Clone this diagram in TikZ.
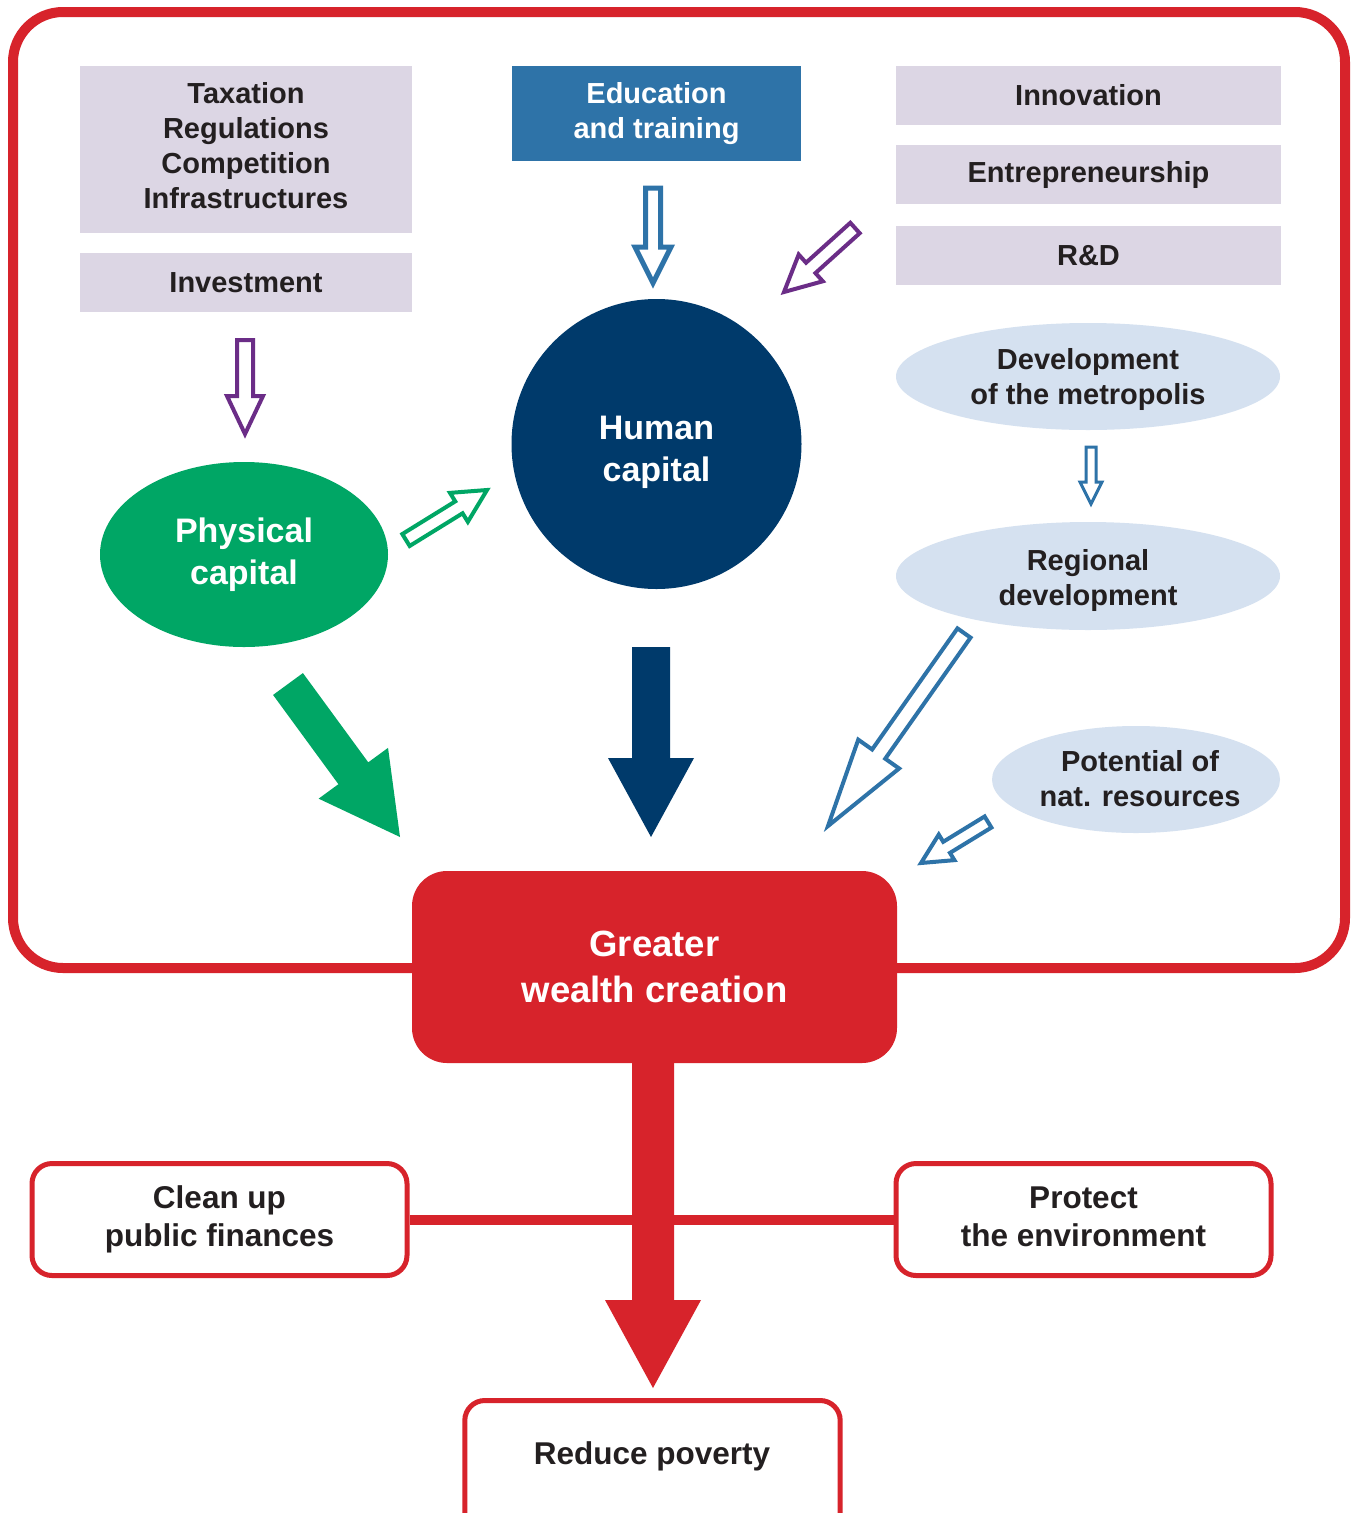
\documentclass[tikz,border=0pt]{standalone}
\usepackage{fontspec}
\setmainfont{Liberation Sans}
\usetikzlibrary{calc,shapes.geometric}
\definecolor{cred}{HTML}{D7232B}
\definecolor{clav}{HTML}{DCD6E4}
\definecolor{cedu}{HTML}{2E73A8}
\definecolor{cnavy}{HTML}{003A6B}
\definecolor{cgreen}{HTML}{00A665}
\definecolor{clblue}{HTML}{D5E1F0}
\definecolor{cpurple}{HTML}{6B2D87}
\definecolor{ctext}{HTML}{231F20}
\newcommand{\blkarrow}[6]{%
  \coordinate (bah) at ($#3!#6!#2$);
  \draw[#1] ($#2!#4!90:#3$) -- ($(bah)!#4!-90:#2$) -- ($(bah)!#5!-90:#2$) -- #3 -- ($(bah)!#5!90:#2$) -- ($(bah)!#4!90:#2$) -- ($#2!#4!-90:#3$) -- cycle;
}
\tikzset{
  txtS/.style={font=\bfseries\fontsize{29}{35}\selectfont, text=ctext, align=center},
  txtM/.style={font=\bfseries\fontsize{31.5}{38}\selectfont, text=ctext, align=center},
  txtL/.style={font=\bfseries\fontsize{34}{42}\selectfont, text=white, align=center},
  lavbox/.style={txtS, fill=clav, inner sep=0pt, minimum width=332pt},
  lblue/.style={ellipse, fill=clblue, inner sep=0pt},
  outbox/.style={txtM, draw=cred, line width=5pt, rounded corners=20pt, fill=white, inner sep=0pt, minimum width=375pt, minimum height=112pt},
  hollow/.style={fill=white, line width=#1, line join=miter},
  hollow/.default=4pt,
}
\begin{document}
\begin{tikzpicture}[x=1pt,y=-1pt]
\useasboundingbox (0,0) rectangle (1353,1513);
\clip (0,0) rectangle (1353,1513);
\fill[white] (0,0) rectangle (1353,1513);

% outer frame
\draw[cred, line width=10pt, rounded corners=50pt] (13,12) rectangle (1345,968);

% top left boxes
\node[lavbox, minimum height=167pt] (tax) at (246,149.5) {};
\node[txtS] (taxt) at (246,145.5) {Taxation\\Regulations\\Competition\\Infrastructures};
\node[lavbox, minimum height=59pt] (inv) at (246,282.5) {Investment};

% education
\node[txtS, text=white, fill=cedu, inner sep=0pt, minimum width=289pt, minimum height=95pt] (edu) at (656.5,113.5) {Education\\and training};

% right boxes
\node[lavbox, minimum width=385pt, minimum height=59pt] (innov) at (1088.5,95.5) {Innovation};
\node[lavbox, minimum width=385pt, minimum height=59pt] (entr) at (1088.5,174.5) {Entrepreneurship};
\node[lavbox, minimum width=385pt, minimum height=59pt] (rnd) at (1088.5,255.5) {R\&D};

% human capital
\node[circle, fill=cnavy, inner sep=0pt, minimum size=290pt] (hum) at (656.5,444) {};
\node[txtL] (humt) at (656.5,452) {Human\\capital};

% physical capital
\node[txtL, ellipse, fill=cgreen, inner sep=0pt, minimum width=288pt, minimum height=185pt] (phy) at (244,554.5) {Physical\\capital};

% light blue ellipses
\node[lblue, minimum width=384pt, minimum height=107pt] (metro) at (1088,376.5) {};
\node[txtS] (metrot) at (1088,379.5) {Development\\of the metropolis};
\node[lblue, minimum width=384pt, minimum height=108pt] (reg) at (1088,576) {};
\node[txtS] (regt) at (1088,580) {Regional\\development};
\node[lblue, minimum width=288pt, minimum height=107pt] (pot) at (1136,779.5) {};
\node[txtS] (pott) at (1140,779) {Potential of\\nat. resources};

% bottom boxes
\node[outbox] (clean) at (219.5,1219.5) {Clean up\\public finances};
\node[outbox] (prot) at (1083.5,1219.5) {};
\node[txtM] (prott) at (1083.5,1216.5) {Protect\\the environment};
\draw[cred, line width=10pt] (clean.east) -- (prot.west);

% reduce poverty
\node[inner sep=0pt, minimum width=375pt, minimum height=130pt, anchor=north] (pov) at (652.5,1400.5) {};
\draw[cred, line width=5pt, rounded corners=20pt, fill=white] (pov.south west) -- (pov.north west) -- (pov.north east) -- (pov.south east);
\node[txtM] (povt) at (652,1456) {Reduce poverty};

% greater wealth creation
\node[font=\bfseries\fontsize{36.5}{46}\selectfont, text=white, align=center, fill=cred, rounded corners=35pt, inner sep=0pt, minimum width=485pt, minimum height=192pt] (gwc) at (654.5,967) {Greater\\wealth creation};

% arrow coordinates
\coordinate (pa1) at (245,340);   \coordinate (pa2) at (245,434);
\coordinate (ea1) at (653,188);   \coordinate (ea2) at (653,283);
\coordinate (pd1) at (855,228);   \coordinate (pd2) at (784,292);
\coordinate (ga1) at (406,540);   \coordinate (ga2) at (487,490);
\coordinate (sa1) at (1091,447);  \coordinate (sa2) at (1091,504);
\coordinate (ba1) at (964,633);   \coordinate (ba2) at (828,826);
\coordinate (na1) at (988,822);   \coordinate (na2) at (921,863);
\coordinate (gs1) at (288,684);   \coordinate (gs2) at (400,837);
\coordinate (ns1) at (651,647);   \coordinate (ns2) at (651,837);
\coordinate (rs1) at (653,1062);  \coordinate (rs2) at (653,1388);

% hollow arrows
\blkarrow{hollow, draw=cpurple}{(pa1)}{(pa2)}{8pt}{18pt}{38pt}
\blkarrow{hollow=5pt, draw=cedu}{(ea1)}{(ea2)}{7.5pt}{18pt}{36pt}
\blkarrow{hollow, draw=cpurple}{(pd1)}{(pd2)}{7pt}{18pt}{36pt}
\blkarrow{hollow, draw=cgreen}{(ga1)}{(ga2)}{7pt}{17pt}{33pt}
\blkarrow{hollow=3pt, draw=cedu}{(sa1)}{(sa2)}{5pt}{11pt}{22pt}
\blkarrow{hollow, draw=cedu}{(ba1)}{(ba2)}{8pt}{25pt}{88pt}
\blkarrow{hollow, draw=cedu}{(na1)}{(na2)}{6.5pt}{15pt}{30pt}

% solid arrows
\blkarrow{fill=cgreen, draw=none}{(gs1)}{(gs2)}{18.5pt}{43pt}{79pt}
\blkarrow{fill=cnavy, draw=none}{(ns1)}{(ns2)}{19pt}{43pt}{79pt}
\blkarrow{fill=cred, draw=none}{(rs1)}{(rs2)}{21pt}{48pt}{88pt}
\end{tikzpicture}
\end{document}
